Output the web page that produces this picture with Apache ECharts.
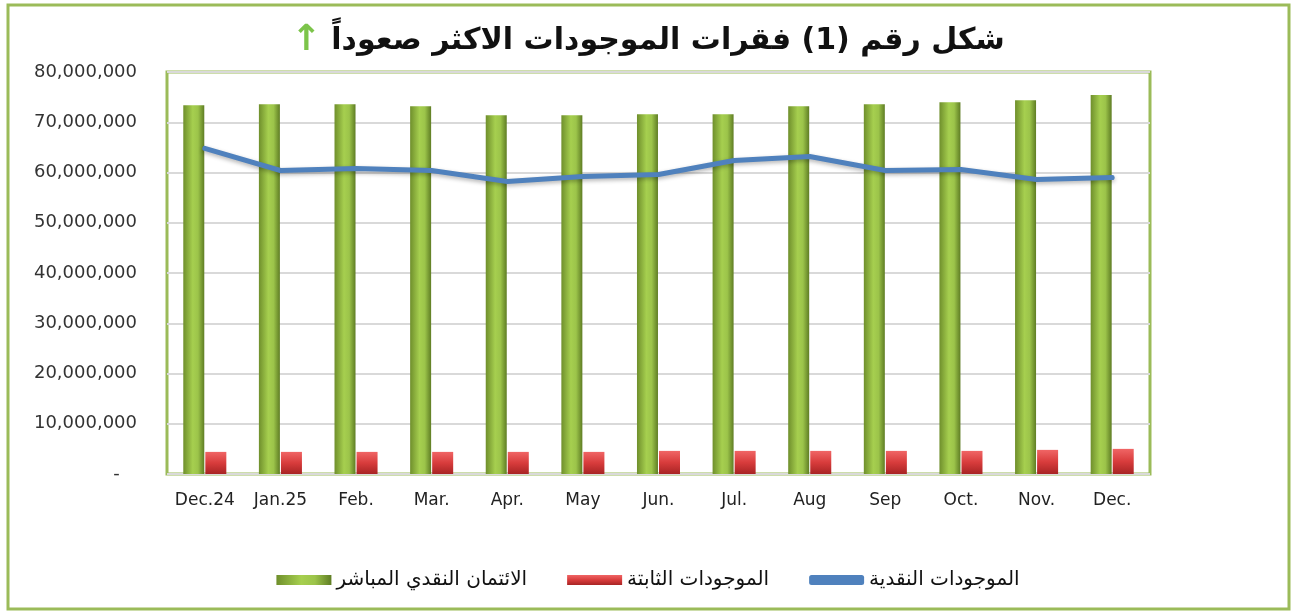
<!DOCTYPE html>
<html>
<head>
<meta charset="UTF-8">
<title>شكل رقم (1)</title>
<script src="https://cdn.jsdelivr.net/npm/echarts@6/dist/echarts.min.js"></script>
<style>
  html, body { margin: 0; padding: 0; background: #fff; }
  #chart { width: 1296px; height: 614px; }
</style>
</head>
<body>
<div id="chart"></div>
<script>
// الأشهر
const months = ['Dec.24', 'Jan.25', 'Feb.', 'Mar.', 'Apr.', 'May', 'Jun.', 'Jul.', 'Aug', 'Sep', 'Oct.', 'Nov.', 'Dec.'];
// الائتمان النقدي المباشر
const directCredit = [73400000, 73600000, 73600000, 73200000, 71400000, 71400000, 71600000, 71600000, 73200000, 73600000, 74000000, 74400000, 75400000];
// الموجودات الثابتة
const fixedAssets = [4400000, 4400000, 4400000, 4400000, 4400000, 4400000, 4600000, 4600000, 4600000, 4600000, 4600000, 4800000, 5000000];
// الموجودات النقدية
const cashAssets = [64800000, 60400000, 60800000, 60400000, 58200000, 59200000, 59600000, 62400000, 63200000, 60400000, 60600000, 58600000, 59000000];

const names = ['الائتمان النقدي المباشر', 'الموجودات الثابتة', 'الموجودات النقدية'];

const chart = echarts.init(document.getElementById('chart'));

function fmt(v) {
    if (v === 0) return '-   ';
    return v.toString().replace(/\B(?=(\d{3})+(?!\d))/g, ',');
}

const greenFill = new echarts.graphic.LinearGradient(0, 0, 1, 0, [
    { offset: 0, color: '#6f8f2c' },
    { offset: 0.45, color: '#a6cf4f' },
    { offset: 0.7, color: '#9cc44a' },
    { offset: 1, color: '#5f7d24' }
]);
const redFill = new echarts.graphic.LinearGradient(0, 0, 0, 1, [
    { offset: 0, color: '#f06565' },
    { offset: 0.5, color: '#d83c3c' },
    { offset: 1, color: '#a82424' }
]);

chart.setOption({
    animation: false,
    title: {
        text: '{a|↑}  {b|شكل رقم (1) فقرات الموجودات الاكثر صعوداً}',
        left: 'center',
        top: 18,
        textStyle: {
            rich: {
                a: { fontSize: 36, color: '#7cc44a', fontFamily: 'DejaVu Sans' },
                b: { fontSize: 30, color: '#111', fontWeight: 'bold', fontFamily: 'DejaVu Sans' }
            }
        }
    },
    graphic: [{
        type: 'rect',
        shape: { x: 8, y: 5, width: 1281, height: 604 },
        style: { fill: 'none', stroke: '#9bbb59', lineWidth: 3 },
        silent: true
    }],
    legend: {
        bottom: 19,
        left: 'center',
        itemWidth: 55,
        itemHeight: 10,
        itemGap: 40,
        textStyle: { fontFamily: 'DejaVu Sans', fontSize: 20, color: '#111' },
        data: [
            { name: names[0], icon: 'rect' },
            { name: names[1], icon: 'rect' },
            { name: names[2], icon: 'roundRect' }
        ]
    },
    grid: {
        left: 167,
        right: 146,
        top: 72,
        bottom: 140,
        show: true,
        borderColor: '#9bbb59',
        borderWidth: 3,
        containLabel: false
    },
    xAxis: {
        type: 'category',
        data: months,
        axisLine: { show: false },
        axisTick: { show: false },
        axisLabel: {
            margin: 18,
            fontFamily: 'DejaVu Sans',
            fontSize: 17,
            color: '#222',
            interval: 0
        }
    },
    yAxis: {
        type: 'value',
        min: 0,
        max: 80000000,
        interval: 10000000,
        axisLine: { show: false },
        axisTick: { show: false },
        splitLine: { lineStyle: { color: '#d9d9d9', width: 2 } },
        axisLabel: {
            margin: 30,
            fontFamily: 'DejaVu Sans',
            fontSize: 18,
            color: '#333',
            formatter: fmt
        }
    },
    series: [
        {
            name: names[0],
            type: 'bar',
            data: directCredit,
            barWidth: 21,
            barGap: '5%',
            itemStyle: { color: greenFill },
            z: 2
        },
        {
            name: names[1],
            type: 'bar',
            data: fixedAssets,
            barWidth: 21,
            barGap: '5%',
            itemStyle: { color: redFill },
            z: 2
        },
        {
            name: names[2],
            type: 'line',
            data: cashAssets,
            symbol: 'none',
            lineStyle: {
                color: '#4f81bd',
                width: 5,
                cap: 'round',
                join: 'round',
                shadowColor: 'rgba(0,0,0,0.3)',
                shadowBlur: 4,
                shadowOffsetY: 2
            },
            itemStyle: { color: '#4f81bd' },
            z: 3
        }
    ]
});
</script>
</body>
</html>
